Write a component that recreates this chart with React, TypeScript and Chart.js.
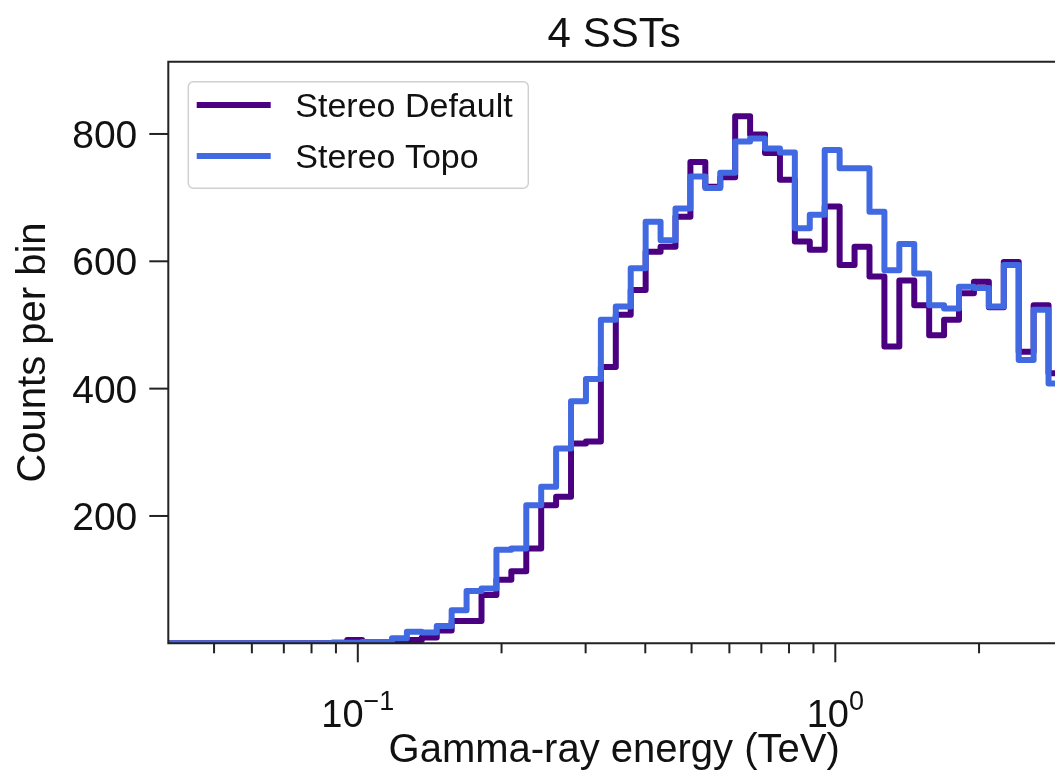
import React, { useEffect, useRef } from "react";
import { Chart, registerables } from "chart.js";

Chart.register(...registerables);

// Histogram bin edges in TeV (log-spaced, 32 bins per decade)
const binEdges = [
  0.04007, 0.04306, 0.04627, 0.04972, 0.05343, 0.05742, 0.0617, 0.06631, 0.07125, 0.07657,
  0.08228, 0.08842, 0.09502, 0.10211, 0.10973, 0.11792, 0.12671, 0.13617, 0.14633, 0.15724,
  0.16897, 0.18158, 0.19513, 0.20968, 0.22533, 0.24214, 0.2602, 0.27961, 0.30047, 0.32289,
  0.34698, 0.37287, 0.4007, 0.4306, 0.4627, 0.4972, 0.5343, 0.5742, 0.617, 0.6631,
  0.7125, 0.7657, 0.8228, 0.8842, 0.9502, 1.0211, 1.0973, 1.1792, 1.2671, 1.3617,
  1.4633, 1.5724, 1.6897, 1.8158, 1.9513, 2.0968, 2.2533, 2.4214, 2.602, 2.7961,
  3.0047,
];

// Counts per bin, one value per bin
const stereoDefault = [
  0, 0, 0, 0, 0, 0, 0, 0, 0, 0,
  0, 1, 5, 2, 2, 4, 5, 9, 20, 35,
  35, 76, 100, 113, 149, 217, 230, 314, 317, 434,
  516, 555, 615, 623, 670, 756, 717, 732, 828, 799,
  770, 728, 631, 618, 686, 594, 623, 576, 466, 570,
  531, 484, 508, 550, 568, 528, 599, 458, 531, 424,
];

const stereoTopo = [
  0, 0, 0, 0, 0, 0, 0, 0, 0, 0,
  0, 1, 1, 2, 2, 8, 18, 17, 27, 52,
  82, 86, 147, 149, 217, 246, 306, 380, 415, 508,
  529, 589, 662, 633, 683, 733, 715, 739, 788, 793,
  777, 771, 652, 673, 775, 746, 746, 678, 586, 627,
  581, 531, 526, 560, 558, 529, 594, 445, 524, 408,
];

const seriesLabels = ["Stereo Default", "Stereo Topo"];
const seriesColors = ["#4B0082", "#4169E1"];

const yTicks = [200, 400, 600, 800];
const xMajorTicks = [0.1, 1];
const xMajorLabels = [
  ["10", "\u22121"],
  ["10", "0"],
];
const xMinorTicks = [0.05, 0.06, 0.07, 0.08, 0.09, 0.2, 0.3, 0.4, 0.5, 0.6, 0.7, 0.8, 0.9, 2];

const titleText = "4 SSTs";
const xLabel = "Gamma-ray energy (TeV)";
const yLabel = "Counts per bin";

const FONT = '"Liberation Sans", Arial, Helvetica, sans-serif';
const INK = "#111111";

function histPoints(values: number[]) {
  const pts = values.map((v, i) => ({ x: binEdges[i], y: v }));
  pts.push({ x: binEdges[values.length], y: values[values.length - 1] });
  return pts;
}

const axesDecor = {
  id: "axesDecor",
  afterDraw(chart: any) {
    const { ctx, chartArea } = chart;
    const xs = chart.scales.x;
    const ys = chart.scales.y;
    const { left, right, top, bottom } = chartArea;
    ctx.save();

    // frame
    ctx.strokeStyle = "#222222";
    ctx.lineWidth = 2;
    ctx.beginPath();
    ctx.moveTo(left, top);
    ctx.lineTo(right, top);
    ctx.lineTo(right, bottom);
    ctx.lineTo(left, bottom);
    ctx.closePath();
    ctx.stroke();

    // y ticks and labels
    ctx.fillStyle = INK;
    ctx.font = `39px ${FONT}`;
    ctx.textAlign = "right";
    ctx.textBaseline = "alphabetic";
    yTicks.forEach((v) => {
      const y = ys.getPixelForValue(v);
      ctx.beginPath();
      ctx.moveTo(left - 19, y);
      ctx.lineTo(left, y);
      ctx.stroke();
      ctx.fillText(String(v), left - 31, y + 14);
    });

    // x ticks
    xMinorTicks.forEach((v) => {
      const x = xs.getPixelForValue(v);
      ctx.beginPath();
      ctx.moveTo(x, bottom);
      ctx.lineTo(x, bottom + 10);
      ctx.stroke();
    });
    xMajorTicks.forEach((v, i) => {
      const x = xs.getPixelForValue(v);
      ctx.beginPath();
      ctx.moveTo(x, bottom);
      ctx.lineTo(x, bottom + 19);
      ctx.stroke();
      const [base, exp] = xMajorLabels[i];
      ctx.font = `38px ${FONT}`;
      const wb = ctx.measureText(base).width;
      ctx.font = `27px ${FONT}`;
      const we = ctx.measureText(exp).width;
      const x0 = x - (wb + we) / 2;
      const baseY = bottom + 84;
      ctx.textAlign = "left";
      ctx.font = `38px ${FONT}`;
      ctx.fillText(base, x0, baseY);
      ctx.font = `27px ${FONT}`;
      ctx.fillText(exp, x0 + wb, baseY - 17);
    });

    // axis titles
    ctx.font = `40px ${FONT}`;
    ctx.textAlign = "center";
    ctx.fillText(xLabel, (left + right) / 2, bottom + 119);

    ctx.save();
    ctx.translate(45, (top + bottom) / 2);
    ctx.rotate(-Math.PI / 2);
    ctx.fillText(yLabel, 0, 0);
    ctx.restore();

    // title
    ctx.font = `42px ${FONT}`;
    ctx.fillText(titleText, (left + right) / 2, top - 15);

    // legend
    const bx = left + 20, by = top + 20, bw = 340, bh = 106.6;
    ctx.fillStyle = "rgba(255,255,255,0.85)";
    ctx.strokeStyle = "#d0d0d0";
    ctx.lineWidth = 1.5;
    ctx.beginPath();
    ctx.roundRect(bx, by, bw, bh, 5);
    ctx.fill();
    ctx.stroke();
    ctx.font = `34px ${FONT}`;
    ctx.textAlign = "left";
    seriesLabels.forEach((lab, i) => {
      const cy = by + 23.3 + i * 51;
      ctx.strokeStyle = seriesColors[i];
      ctx.lineWidth = 6;
      ctx.beginPath();
      ctx.moveTo(bx + 8.4, cy);
      ctx.lineTo(bx + 82.4, cy);
      ctx.stroke();
      ctx.fillStyle = INK;
      ctx.fillText(lab, bx + 107, cy + 12);
    });

    ctx.restore();
  },
};

export default function App() {
  const canvasRef = useRef<HTMLCanvasElement | null>(null);

  useEffect(() => {
    const canvas = canvasRef.current;
    if (!canvas) return;
    const chart = new Chart(canvas, {
      type: "line",
      data: {
        datasets: [
          {
            label: seriesLabels[1],
            data: histPoints(stereoTopo),
            borderColor: seriesColors[1],
            borderWidth: 6,
            stepped: "before",
            pointRadius: 0,
            fill: false,
            borderJoinStyle: "round",
            borderCapStyle: "butt",
          },
          {
            label: seriesLabels[0],
            data: histPoints(stereoDefault),
            borderColor: seriesColors[0],
            borderWidth: 6,
            stepped: "before",
            pointRadius: 0,
            fill: false,
            borderJoinStyle: "round",
            borderCapStyle: "butt",
          },
        ],
      },
      options: {
        responsive: false,
        animation: false,
        events: [],
        layout: { padding: { left: 168.3, top: 61.7, right: 0, bottom: 129.7 } },
        scales: {
          x: { type: "logarithmic", min: 0.0401, max: 2.955, display: false },
          y: { type: "linear", min: 0, max: 913.5, display: false },
        },
        plugins: {
          legend: { display: false },
          title: { display: false },
          tooltip: { enabled: false },
        },
      },
      plugins: [axesDecor],
    } as any);
    return () => chart.destroy();
  }, []);

  return (
    <div
      style={{
        position: "fixed",
        left: 0,
        top: 0,
        width: 1055,
        height: 773,
        overflow: "hidden",
        background: "#ffffff",
      }}
    >
      <canvas
        ref={canvasRef}
        width={1060}
        height={773}
        style={{ display: "block", width: 1060, height: 773 }}
      />
    </div>
  );
}
